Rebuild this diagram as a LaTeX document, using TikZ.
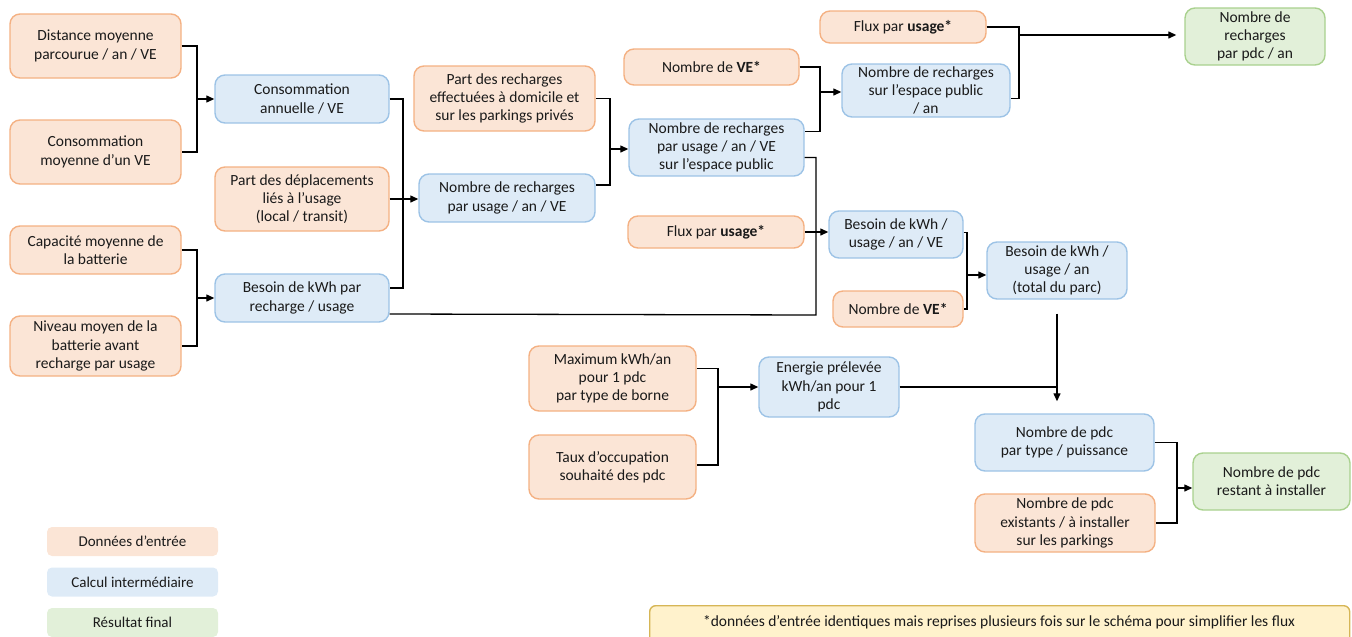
\documentclass[tikz,border=0pt]{standalone}
\usepackage{fontspec}
\setmainfont{Carlito}
\usetikzlibrary{arrows.meta}
\definecolor{inF}{HTML}{FBE5D6}
\definecolor{inD}{HTML}{F4B183}
\definecolor{caF}{HTML}{DEEBF7}
\definecolor{caD}{HTML}{9DC3E6}
\definecolor{reF}{HTML}{E2F0D9}
\definecolor{reD}{HTML}{A9D18E}
\definecolor{noF}{HTML}{FFF2CC}
\definecolor{noD}{HTML}{D6B656}
\definecolor{txt}{HTML}{1A1A1A}
\begin{document}
\begin{tikzpicture}[x=1pt,y=-1pt,
  box/.style={rounded corners=10pt, line width=1.4pt, align=center, inner sep=0pt,
    font=\fontsize{15.5}{18.3}\selectfont, text=txt},
  inbox/.style={box, fill=inF, draw=inD},
  cabox/.style={box, fill=caF, draw=caD},
  rebox/.style={box, fill=reF, draw=reD},
  legbox/.style={rounded corners=5pt, inner sep=0pt, font=\fontsize{15}{17}\selectfont, text=txt, minimum width=171pt, minimum height=29pt},
  wh/.style 2 args={minimum width=#1pt, minimum height=#2pt},
  conn/.style={line width=1.3pt, draw=black},
  arr/.style={conn, -{Triangle[length=8pt,width=7pt]}}]
\useasboundingbox (0,0) rectangle (1352,637);
\clip (0,0) rectangle (1352,637);

% input boxes
\node[inbox, wh={171}{64}] (dist) at (95.5,46) {Distance moyenne\\parcourue / an / VE};
\node[inbox, wh={171}{64}] (conso) at (95.5,152) {Consommation\\moyenne d’un VE};
\node[inbox, wh={171}{48}] (capa) at (95.5,250) {Capacité moyenne de\\la batterie};
\node[inbox, wh={171}{60}] (niveau) at (95.5,346) {Niveau moyen de la\\batterie avant\\recharge par usage};
\node[inbox, wh={174}{64}] (partdep) at (302,199) {Part des déplacements\\liés à l’usage\\(local / transit)};
\node[inbox, wh={181}{65}] (partrech) at (504.5,98.5) {Part des recharges\\effectuées à domicile et\\sur les parkings privés};
\node[inbox, wh={175}{36}] (ve1) at (711.5,67) {Nombre de \textbf{VE*}};
\node[inbox, wh={166}{32}] (flux1) at (903,27) {Flux par \textbf{usage*}};
\node[inbox, wh={176}{32}] (flux2) at (716,232) {Flux par \textbf{usage*}};
\node[inbox, wh={130}{36}] (ve2) at (898,309) {Nombre de \textbf{VE*}};
\node[inbox, wh={167}{65}] (maxk) at (612.5,378.5) {Maximum kWh/an\\pour 1 pdc\\par type de borne};
\node[inbox, wh={167}{64}] (taux) at (612.5,467) {Taux d’occupation\\souhaité des pdc};
\node[inbox, wh={180}{58}] (exist) at (1065,523) {Nombre de pdc\\existants / à installer\\sur les parkings};

% intermediate
\node[cabox, wh={174}{48}] (consoann) at (302,99) {Consommation\\annuelle / VE};
\node[cabox, wh={174}{48}] (besoinrech) at (302,298) {Besoin de kWh par\\recharge / usage};
\node[cabox, wh={176}{48}] (nrech) at (507,198) {Nombre de recharges\\par usage / an / VE};
\node[cabox, wh={175}{57}] (nrechpub) at (716.5,147.5) {Nombre de recharges\\par usage / an / VE\\sur l’espace public};
\node[cabox, wh={168}{53}] (nrechpuban) at (926,90.5) {Nombre de recharges\\sur l’espace public\\/ an};
\node[cabox, wh={134}{47}] (besoinve) at (896,234.5) {Besoin de kWh /\\usage / an / VE};
\node[cabox, wh={140}{57}] (besointot) at (1057,270.5) {Besoin de kWh /\\usage / an\\(total du parc)};
\node[cabox, wh={140}{60}] (energie) at (829,387) {Energie prélevée\\kWh/an pour 1\\pdc};
\node[cabox, wh={179}{57}] (pdc) at (1064.5,442.5) {Nombre de pdc\\par type / puissance};

% results
\node[rebox, wh={140}{57}] (final1) at (1255,36.5) {Nombre de\\recharges\\par pdc / an};
\node[rebox, wh={157}{57}] (final2) at (1271.5,481.5) {Nombre de pdc\\restant à installer};

% legend
\node[legbox, fill=inF] (leg1) at (132.5,541.5) {Données d’entrée};
\node[legbox, fill=caF] (leg2) at (132.5,582) {Calcul intermédiaire};
\node[legbox, fill=reF] (leg3) at (132.5,622.5) {Résultat final};

% note
\node[rounded corners=6pt, line width=1.4pt, fill=noF, draw=noD, minimum width=700pt, minimum height=44pt,
  inner sep=0pt, anchor=north west] (note) at (649,605) {};
\node[font=\fontsize{15.5}{18}\selectfont, text=txt] (notetxt) at (999,622)
  {*données d’entrée identiques mais reprises plusieurs fois sur le schéma pour simplifier les flux};

% junctions
\coordinate (j1) at (197,99);
\coordinate (j2) at (197,298);
\coordinate (j3) at (403,199);
\coordinate (j4) at (610,149);
\coordinate (j5) at (820,92);
\coordinate (j6) at (1019,35);
\coordinate (j7) at (816,315);
\coordinate (j8) at (967,275);
\coordinate (j9) at (718,387);
\coordinate (j10) at (1057,387);
\coordinate (j11) at (1177,488);

% connectors
\draw[conn] (dist.east) -| (j1) |- (conso.east);
\draw[arr] (j1) -- (consoann.west);
\draw[conn] (capa.east) -| (j2) |- (niveau.east);
\draw[arr] (j2) -- (besoinrech.west);
\draw[conn] (consoann.east) -| (j3) |- ([yshift=10pt]besoinrech.east);
\draw[arr] (partdep.east) -- (partdep.east -| nrech.west);
\draw[conn] (partrech.east) -| (j4) |- ([yshift=13pt]nrech.east);
\draw[arr] (j4) -- (j4 -| nrechpub.west);
\draw[conn] (ve1.east) -| (j5) |- ([yshift=16pt]nrechpub.east);
\draw[arr] (j5) -- (j5 -| nrechpuban.west);
\draw[conn] (flux1.east) -| (j6) |- ([yshift=-8pt]nrechpuban.east);
\draw[arr] (j6) -- ([xshift=-8pt]j6 -| final1.west);
\draw[conn] ([yshift=-10pt]nrechpub.east) -| (j7) -- ([yshift=-16pt]besoinrech.east);
\draw[arr] (flux2.east) -- (flux2.east -| besoinve.west);
\draw[conn] ([yshift=2pt]besoinve.east) -| (j8) |- (ve2.east);
\draw[arr] (j8) -- (j8 -| besointot.west);
\draw[conn] ([yshift=10pt]maxk.east) -| (j9) |- ([yshift=2pt]taux.east);
\draw[arr] (j9) -- (energie.west);
\draw[conn] (energie.east) -- (j10);
\draw[arr] ([yshift=-14pt]besointot.south) -- ([yshift=12pt]pdc.north -| besointot.south);
\draw[conn] (pdc.east) -| (j11) |- (exist.east);
\draw[arr] (j11) -- (j11 -| final2.west);
\end{tikzpicture}
\end{document}
